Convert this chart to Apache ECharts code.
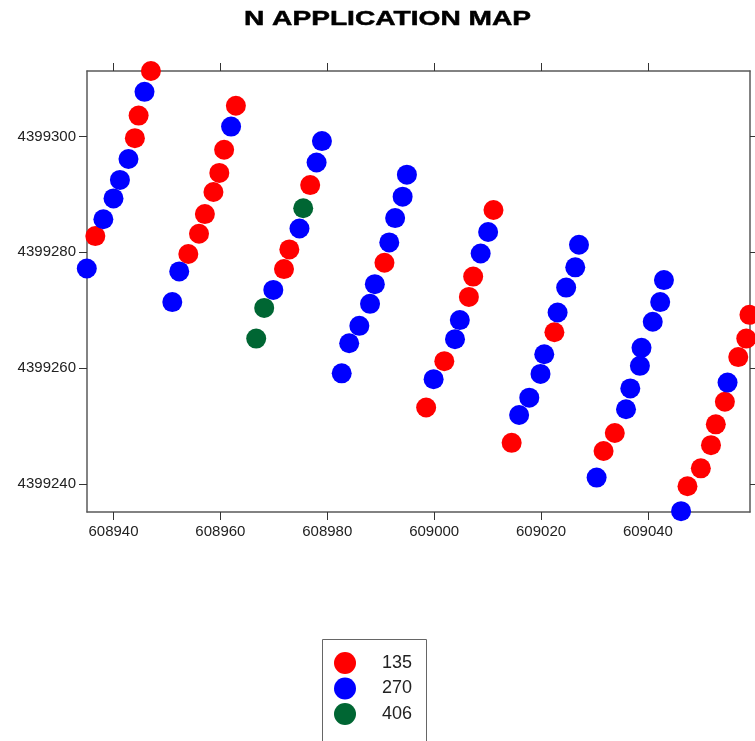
<!DOCTYPE html>
<html>
<head>
<meta charset="utf-8">
<script src="https://cdn.jsdelivr.net/npm/echarts@6/dist/echarts.min.js"></script>
<style>
  html, body { margin: 0; padding: 0; background: #fff; }
  #chart { width: 755px; height: 741px; }
</style>
</head>
<body>
<div id="chart"></div>
<script>
// ---- Data (easting / northing per N rate) ----
const levelNames = ['135', '270', '406'];

const east135 = [608936.6, 608944.0, 608944.7, 608947.0,
  608954.0, 608956.0, 608957.1, 608958.7, 608959.8, 608960.7, 608962.9,
  608971.9, 608972.9, 608976.8,
  608990.7,
  608998.5, 609001.9, 609006.5, 609007.3, 609011.1,
  609014.5, 609022.5,
  609031.7, 609033.8,
  609047.4, 609049.9, 609051.8, 609052.7, 609054.4, 609056.9, 609058.4, 609059.0];
const north135 = [4399282.8, 4399299.7, 4399303.6, 4399311.3,
  4399279.7, 4399283.2, 4399286.6, 4399290.4, 4399293.7, 4399297.7, 4399305.3,
  4399277.1, 4399280.5, 4399291.6,
  4399278.2,
  4399253.2, 4399261.2, 4399272.3, 4399275.8, 4399287.3,
  4399247.1, 4399266.2,
  4399245.7, 4399248.8,
  4399239.6, 4399242.7, 4399246.7, 4399250.3, 4399254.2, 4399261.9, 4399265.1, 4399269.2];

const east270 = [608935.0, 608938.1, 608940.0, 608941.2, 608942.8, 608945.8,
  608951.0, 608952.3, 608962.0,
  608969.9, 608974.8, 608978.0, 608979.0,
  608982.7, 608984.1, 608986.0, 608988.0, 608988.9, 608991.6, 608992.7, 608994.1, 608994.9,
  608999.9, 609003.9, 609004.8, 609008.7, 609010.1,
  609015.9, 609017.8, 609019.9, 609020.6, 609023.1, 609024.7, 609026.4, 609027.1,
  609030.4, 609035.9, 609036.7, 609038.5, 609038.8, 609040.9, 609042.3, 609043.0,
  609046.2, 609054.9];
const north270 = [4399277.2, 4399285.7, 4399289.3, 4399292.5, 4399296.1, 4399307.7,
  4399271.4, 4399276.7, 4399301.7,
  4399273.5, 4399284.1, 4399295.5, 4399299.2,
  4399259.1, 4399264.3, 4399267.3, 4399271.1, 4399274.5, 4399281.7, 4399285.9, 4399289.6, 4399293.4,
  4399258.1, 4399265.0, 4399268.3, 4399279.8, 4399283.5,
  4399251.9, 4399254.9, 4399259.0, 4399262.4, 4399269.6, 4399273.9, 4399277.4, 4399281.3,
  4399241.1, 4399252.9, 4399256.5, 4399260.4, 4399263.5, 4399268.0, 4399271.4, 4399275.2,
  4399235.3, 4399257.5];

const east406 = [608966.7, 608968.2, 608975.5];
const north406 = [4399265.1, 4399270.4, 4399287.6];

const xTicks = [608940, 608960, 608980, 609000, 609020, 609040];
const yTicks = [4399240, 4399260, 4399280, 4399300];

// ---- Chart ----
const pair = (xs, ys) => xs.map((x, i) => [x, ys[i]]);
const seriesData = [pair(east135, north135), pair(east270, north270), pair(east406, north406)];
const colors = ['#FF0000', '#0000FF', '#006633'];

const FONT = "'Liberation Sans', Arial, Helvetica, sans-serif";
const lineStyle = { color: '#5a5a5a', width: 1.5 };

const chart = echarts.init(document.getElementById('chart'), null, { renderer: 'canvas' });

const xCommon = {
  type: 'value', min: 608935.04, max: 609059.1, scale: true,
  splitLine: { show: false },
  axisLine: { show: true, onZero: false, lineStyle: lineStyle },
  axisTick: { show: true, inside: false, length: 8, lineStyle: { color: '#333', width: 1 }, customValues: xTicks }
};
const yCommon = {
  type: 'value', min: 4399235.16, max: 4399311.3, scale: true,
  splitLine: { show: false },
  axisLine: { show: true, onZero: false, lineStyle: lineStyle },
  axisTick: { show: true, inside: false, length: 8, lineStyle: { color: '#333', width: 1 }, customValues: yTicks }
};

chart.setOption({
  animation: false,
  backgroundColor: '#fff',
  graphic: [
    {
      type: 'text', x: 387.5, y: 19.5, scaleX: 1.34, scaleY: 1,
      style: {
        text: 'N APPLICATION MAP', fill: '#000', stroke: '#000', lineWidth: 0.5,
        font: 'bold 21px ' + FONT, textAlign: 'center', textVerticalAlign: 'middle'
      }
    },
    {
      type: 'rect', left: 322, top: 639, z: -1,
      shape: { width: 104, height: 130 },
      style: { fill: '#fff', stroke: '#666', lineWidth: 1 }
    }
  ],
  grid: { left: 87, right: 5, top: 71, bottom: 229, containLabel: false },
  xAxis: [
    Object.assign({}, xCommon, {
      position: 'bottom',
      axisLabel: { show: true, customValues: xTicks, margin: 12, color: '#222', fontSize: 15, fontFamily: FONT,
        formatter: v => String(Math.round(v)) }
    }),
    Object.assign({}, xCommon, { position: 'top', axisLabel: { show: false } })
  ],
  yAxis: [
    Object.assign({}, yCommon, {
      position: 'left',
      axisLabel: { show: true, customValues: yTicks, margin: 11, color: '#222', fontSize: 15, fontFamily: FONT,
        formatter: v => String(Math.round(v)) }
    }),
    Object.assign({}, yCommon, { position: 'right', axisLabel: { show: false } })
  ],
  legend: {
    orient: 'vertical', left: 322, top: 639,
    padding: [13, 14, 2, 12],
    itemWidth: 22, itemHeight: 22, itemGap: 3.5,
    icon: 'circle',
    textStyle: { fontSize: 18, color: '#222', fontFamily: FONT, padding: [0, 0, 0, 21] },
    data: levelNames
  },
  series: levelNames.map((name, i) => ({
    name: name, type: 'scatter', xAxisIndex: 0, yAxisIndex: 0,
    symbol: 'circle', symbolSize: 20, clip: false,
    itemStyle: { color: colors[i], opacity: 1 },
    emphasis: { disabled: true },
    data: seriesData[i]
  }))
});
</script>
</body>
</html>
